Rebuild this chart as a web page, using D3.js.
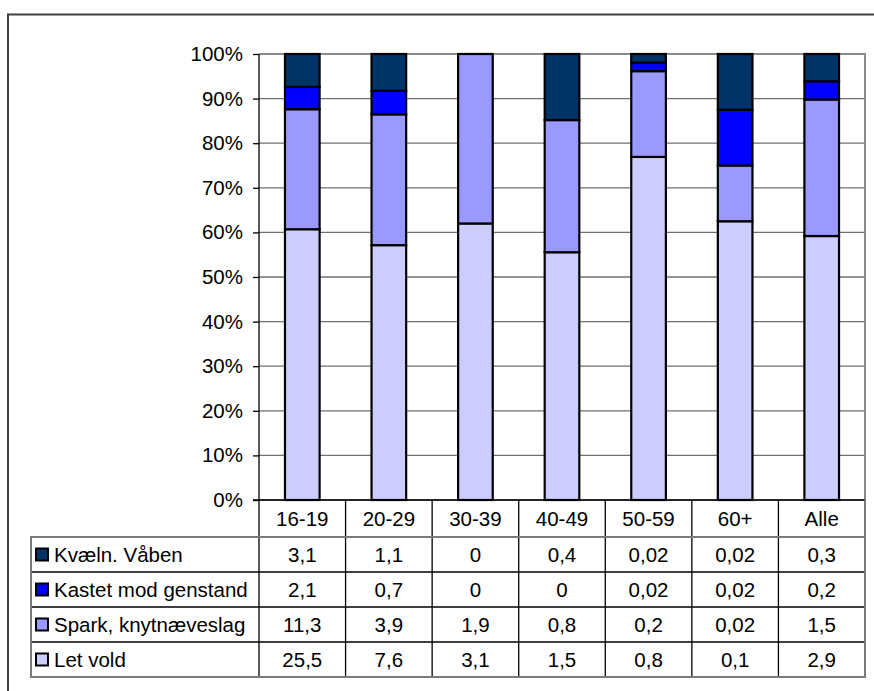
<!DOCTYPE html>
<html><head><meta charset="utf-8">
<script src="https://cdn.jsdelivr.net/npm/d3@7"></script>
<style>body{margin:0;background:#fff}svg{display:block}text{font-family:"Liberation Sans",Arial,sans-serif;fill:#000}</style>
</head><body>
<svg id="c" width="874" height="691"></svg>
<script>
const categories = ["16-19","20-29","30-39","40-49","50-59","60+","Alle"];
const letVold = [25.5,7.6,3.1,1.5,0.8,0.1,2.9];
const spark = [11.3,3.9,1.9,0.8,0.2,0.02,1.5];
const kastet = [2.1,0.7,0,0,0.02,0.02,0.2];
const kvaeln = [3.1,1.1,0,0.4,0.02,0.02,0.3];
const seriesNames = ["Let vold","Spark, knytnæveslag","Kastet mod genstand","Kvæln. Våben"];
const seriesValues = [letVold, spark, kastet, kvaeln];
const seriesColors = ["#CCCCFF","#9999FF","#0000FF","#003366"];
const yTicks = [0,0.1,0.2,0.3,0.4,0.5,0.6,0.7,0.8,0.9,1];

const svg = d3.select("#c");
const FONT = "'Liberation Sans', Arial, sans-serif";
const L=259,R=865,T=54,B=500, rowH=35, tableLeft=31;
const fs = 20.5;

svg.append("rect").attr("x",8).attr("y",14.5).attr("width",900).attr("height",700)
  .attr("fill","none").attr("stroke","#404040").attr("stroke-width",2);

const x = d3.scaleBand().domain(categories).range([L,R]).padding(0);
const y = d3.scaleLinear().domain([0,1]).range([B,T]);

svg.append("g").selectAll("line").data(yTicks).join("line")
  .attr("x1",L).attr("x2",R).attr("y1",d=>y(d)).attr("y2",d=>y(d))
  .attr("stroke","#707070").attr("stroke-width",1.3);
svg.append("path").attr("d",`M${L},${T}H${R}V${B}`).attr("fill","none").attr("stroke","#8c8c8c").attr("stroke-width",2);

const yAxis = d3.axisLeft(y).tickValues(yTicks).tickFormat(d3.format(".0%")).tickSize(6).tickPadding(10);
const gy = svg.append("g").attr("transform",`translate(${L},0)`).call(yAxis);
gy.select(".domain").remove();
gy.selectAll(".tick line").attr("stroke","#000").attr("stroke-width",1.3);
gy.selectAll(".tick text").attr("font-size",fs).attr("font-family",FONT).attr("fill","#000");

const rows = categories.map((c,i)=>{const o={cat:c}; seriesNames.forEach((s,j)=>o[s]=seriesValues[j][i]); return o;});
const stack = d3.stack().keys(seriesNames).offset(d3.stackOffsetExpand);
const stacked = stack(rows);
const bw = x.bandwidth()*0.4;
svg.append("g").selectAll("g").data(stacked).join("g")
  .attr("fill",(d,i)=>seriesColors[i])
  .selectAll("rect").data(d=>d).join("rect")
  .attr("x",d=>x(d.data.cat)+x.bandwidth()/2-bw/2)
  .attr("width",bw)
  .attr("y",d=>y(d[1]))
  .attr("height",d=>y(d[0])-y(d[1]))
  .attr("stroke","#000").attr("stroke-width",2.2);

const tb = svg.append("g");
const tableTop = B + rowH + 2;
const nRows = seriesNames.length;
const tableBottom = tableTop + nRows*rowH;
tb.selectAll("text.hdr").data(categories).join("text").attr("class","hdr")
  .attr("x",d=>x(d)+x.bandwidth()/2).attr("y",(B+tableTop)/2+7)
  .attr("text-anchor","middle").attr("font-size",fs).attr("font-family",FONT).text(d=>d);
const bounds = categories.map(c=>x(c));
tb.selectAll("line.v").data(bounds).join("line").attr("class","v")
  .attr("x1",d=>d).attr("x2",d=>d).attr("y2",tableBottom)
  .attr("stroke","#000").attr("stroke-width",1.3)
  .attr("y1",(d,i)=>i===0?T:B);
tb.append("line").attr("x1",L-6).attr("x2",R).attr("y1",B).attr("y2",B).attr("stroke","#000").attr("stroke-width",1.5);
const order = [3,2,1,0];
const hl = d3.range(1,nRows).map(i=>tableTop+i*rowH);
tb.selectAll("line.h").data(hl).join("line").attr("class","h")
  .attr("x1",tableLeft).attr("x2",R).attr("y1",d=>d).attr("y2",d=>d)
  .attr("stroke","#000").attr("stroke-width",1.3);
tb.append("rect").attr("x",tableLeft).attr("y",tableTop).attr("width",R-tableLeft).attr("height",nRows*rowH)
  .attr("fill","none").attr("stroke","#7a7a7a").attr("stroke-width",2);
tb.append("line").attr("x1",R).attr("x2",R).attr("y1",B).attr("y2",tableTop).attr("stroke","#7a7a7a").attr("stroke-width",2);

order.forEach((si,r)=>{
  const cy = tableTop + r*rowH + rowH/2;
  tb.append("rect").attr("x",36).attr("y",cy-6).attr("width",12).attr("height",12)
    .attr("fill",seriesColors[si]).attr("stroke","#000").attr("stroke-width",2);
  tb.append("text").attr("x",54).attr("y",cy+7).attr("font-size",fs).attr("font-family",FONT).text(seriesNames[si]);
  tb.selectAll(null).data(seriesValues[si]).join("text")
    .attr("x",(d,i)=>x(categories[i])+x.bandwidth()/2).attr("y",cy+7)
    .attr("text-anchor","middle").attr("font-size",fs).attr("font-family",FONT)
    .text(d=>String(d).replace(".",","));
});
</script>
</body></html>
